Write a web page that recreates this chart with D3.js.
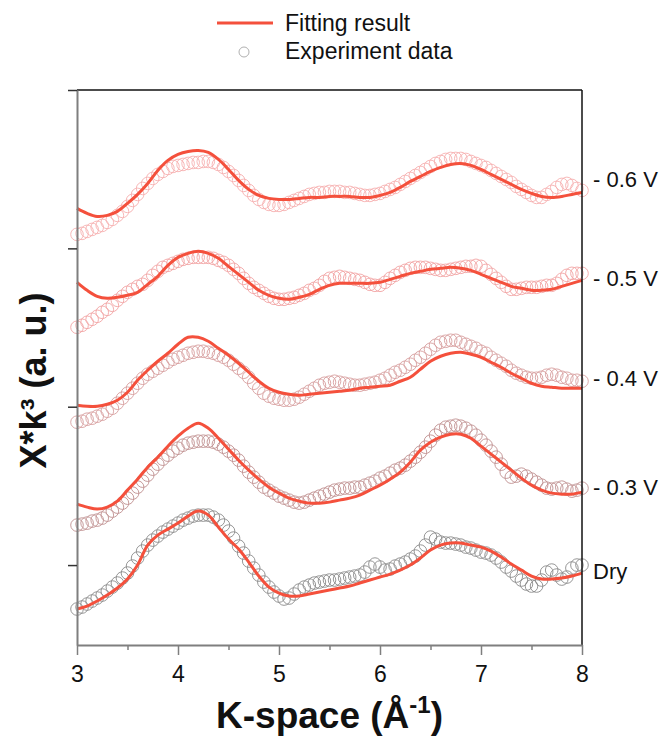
<!DOCTYPE html>
<html>
<head>
<meta charset="utf-8">
<script src="https://cdn.jsdelivr.net/npm/d3@7"></script>
<style>
  html, body { margin: 0; padding: 0; background: #fff; }
  svg { display: block; font-family: "Liberation Sans", Arial, sans-serif; }
</style>
</head>
<body>
<svg id="chart" width="668" height="740"></svg>
<script>
// Series names, vertical offsets (a.u.) and label levels
const seriesNames = ["Dry", "- 0.3 V", "- 0.4 V", "- 0.5 V", "- 0.6 V"];
const seriesOffsets = [0, 8, 18, 28, 37.5];
const labelLevels = [-1.4, 7.0, 17.9, 27.9, 37.8];

// k grids (Å^-1): fits every 0.1, experimental points every 0.05
const kFit = d3.range(51).map(i => +(3 + i * 0.1).toFixed(2));
const kExp = d3.range(101).map(i => +(3 + i * 0.05).toFixed(2));

// Fitted χ·k³ (a.u., before offset)
const fitDry = [-4.4,-4.1,-3.6,-3.0,-2.3,-1.4,0.0,2.0,3.0,3.6, 4.2,4.9,5.4,5.0,3.8,2.6,1.6,0.3,-1.1,-2.2,
  -2.8,-3.1,-3.1,-2.9,-2.7,-2.5,-2.3,-2.1,-1.8,-1.5, -1.2,-0.9,-0.5,0.0,0.7,1.5,2.0,2.2,2.2,2.0,
  1.8,1.4,0.8,0.1,-0.5,-1.1,-1.4,-1.4,-1.3,-1.1, -0.8];
const fit03 = [-1.9,-2.2,-2.4,-2.2,-1.6,-0.5,0.6,1.8,2.8,3.9, 4.9,5.7,6.2,5.7,4.7,3.6,2.5,1.5,0.6,-0.2,
  -0.8,-1.3,-1.6,-1.8,-1.8,-1.7,-1.5,-1.3,-1.0,-0.5, 0.0,0.6,1.3,2.3,3.5,4.3,4.8,5.1,5.1,4.7,
  3.9,3.1,2.3,1.5,0.7,0.0,-0.5,-0.8,-0.9,-0.9, -0.7];
const fit04 = [-2.0,-2.1,-2.1,-1.9,-1.5,-0.7,0.5,1.5,2.4,3.2, 4.1,4.8,4.8,4.4,3.7,3.0,2.2,1.3,0.4,-0.3,
  -0.7,-0.9,-1.0,-0.9,-0.8,-0.7,-0.6,-0.5,-0.3,-0.2, -0.1,0.0,0.4,0.8,1.6,2.4,2.9,3.2,3.3,3.1,
  2.8,2.3,1.8,1.2,0.7,0.2,-0.1,-0.2,-0.3,-0.3, -0.3];
const fit05 = [0.3,-0.5,-1.1,-1.3,-1.2,-1.0,-0.7,0.1,0.9,2.0, 2.8,3.2,3.4,3.2,2.7,1.9,1.1,0.3,-0.5,-1.0,
  -1.3,-1.4,-1.2,-0.9,-0.4,0.0,0.2,0.2,0.2,0.2, 0.3,0.6,0.9,1.2,1.4,1.6,1.7,1.8,1.7,1.5,
  1.1,0.7,0.3,-0.1,-0.3,-0.5,-0.5,-0.4,-0.1,0.2, 0.5];
const fit06 = [-1.8,-2.3,-2.6,-2.5,-2.1,-1.3,-0.4,0.7,2.0,3.0, 3.6,3.9,4.0,3.8,3.1,2.1,1.0,0.1,-0.5,-0.8,
  -0.9,-0.9,-0.8,-0.7,-0.7,-0.6,-0.6,-0.6,-0.7,-0.7, -0.5,-0.2,0.3,0.9,1.4,1.9,2.3,2.6,2.7,2.5,
  2.1,1.6,1.1,0.6,0.1,-0.3,-0.6,-0.7,-0.6,-0.4, -0.2];

// Experimental χ·k³ (a.u., before offset)
const expDry = [-4.4,-4.2,-3.9,-3.6,-3.3,-3.0,-2.6,-2.2,-1.8,-1.3,
  -0.8,-0.1,0.7,1.4,2.0,2.5,2.9,3.3,3.6,3.9,
  4.2,4.5,4.7,4.9,5.0,5.0,5.0,4.8,4.5,4.0,
  3.4,2.7,1.9,1.2,0.4,-0.3,-1.0,-1.7,-2.2,-2.7,
  -3.1,-3.4,-3.3,-2.9,-2.5,-2.2,-2.0,-1.8,-1.7,-1.6,
  -1.5,-1.5,-1.4,-1.3,-1.2,-1.1,-1.0,-0.7,-0.2,0.1,
  -0.2,-0.5,-0.4,-0.1,0.1,0.3,0.6,0.9,1.4,2.0,
  2.8,2.6,2.3,2.2,2.2,2.1,2.0,1.8,1.7,1.5,
  1.3,1.2,1.0,0.7,0.3,-0.2,-0.6,-1.1,-1.5,-1.9,
  -2.1,-2.1,-1.5,-0.7,-0.5,-1.0,-1.4,-1.2,-0.3,0.0,
  0.0];
const exp03 = [-4.0,-3.9,-3.8,-3.6,-3.5,-3.3,-3.0,-2.6,-2.2,-1.8,
  -1.3,-0.8,-0.2,0.4,1.0,1.6,2.1,2.6,3.0,3.4,
  3.7,4.0,4.2,4.3,4.4,4.4,4.4,4.3,4.1,3.8,
  3.4,3.0,2.5,1.9,1.3,0.8,0.3,-0.2,-0.5,-0.8,
  -1.1,-1.3,-1.5,-1.7,-1.8,-1.7,-1.5,-1.3,-1.1,-0.9,
  -0.7,-0.5,-0.4,-0.3,-0.3,-0.2,-0.2,0.0,0.2,0.4,
  0.7,0.9,1.2,1.5,1.7,2.0,2.4,2.8,3.3,3.8,
  4.4,5.0,5.5,5.8,5.9,6.0,5.9,5.7,5.4,5.0,
  4.5,4.0,3.4,2.8,2.1,1.3,0.8,0.9,1.1,0.9,
  0.6,0.3,0.0,-0.3,-0.4,-0.3,-0.2,-0.4,-0.6,-0.5,
  -0.3];
const exp04 = [-3.7,-3.6,-3.4,-3.3,-3.1,-2.9,-2.6,-2.3,-1.8,-1.3,
  -0.8,-0.3,0.2,0.7,1.1,1.4,1.7,2.0,2.3,2.6,
  2.8,3.0,3.2,3.3,3.4,3.4,3.3,3.2,3.0,2.8,
  2.5,2.1,1.7,1.3,0.8,0.2,-0.3,-0.8,-1.1,-1.3,
  -1.4,-1.5,-1.5,-1.4,-1.2,-0.9,-0.6,-0.3,0.0,0.2,
  0.3,0.4,0.3,0.2,0.1,0.0,0.0,0.1,0.2,0.3,
  0.5,0.7,1.0,1.3,1.5,1.8,2.1,2.5,2.8,3.2,
  3.6,4.0,4.3,4.4,4.5,4.5,4.3,4.1,3.9,3.7,
  3.4,3.2,2.8,2.5,2.2,1.9,1.5,1.2,1.0,0.8,
  0.7,0.7,0.8,1.0,1.1,1.0,0.8,0.7,0.5,0.5,
  0.4];
const exp05 = [-4.2,-4.0,-3.7,-3.4,-3.1,-2.7,-2.4,-2.0,-1.5,-1.1,
  -0.7,-0.4,-0.1,0.1,0.5,1.0,1.4,1.8,2.0,2.2,
  2.4,2.6,2.7,2.8,2.8,2.8,2.8,2.7,2.5,2.3,
  2.0,1.6,1.2,0.7,0.2,-0.2,-0.5,-0.8,-1.1,-1.3,
  -1.4,-1.4,-1.3,-1.2,-1.0,-0.8,-0.5,-0.3,0.0,0.4,
  0.7,0.8,0.9,0.8,0.7,0.6,0.5,0.3,0.1,0.0,
  0.0,0.3,0.7,1.0,1.3,1.5,1.7,1.8,1.8,1.8,
  1.7,1.6,1.5,1.5,1.6,1.7,1.8,1.9,1.9,2.0,
  1.9,1.5,1.1,0.7,0.3,-0.1,-0.4,-0.4,-0.3,-0.2,
  -0.2,-0.2,-0.1,0.0,0.0,0.2,0.6,1.0,1.2,1.2,
  1.2];
const exp06 = [-4.4,-4.3,-4.1,-3.9,-3.7,-3.5,-3.2,-2.9,-2.5,-2.1,
  -1.6,-1.0,-0.4,0.2,0.7,1.2,1.6,1.9,2.2,2.4,
  2.5,2.6,2.7,2.8,2.8,2.9,2.9,2.8,2.6,2.3,
  1.9,1.5,1.0,0.5,0.0,-0.5,-0.9,-1.2,-1.4,-1.5,
  -1.5,-1.4,-1.2,-1.0,-0.8,-0.6,-0.4,-0.3,-0.2,-0.2,
  -0.1,-0.1,-0.1,-0.2,-0.2,-0.3,-0.4,-0.5,-0.5,-0.4,
  -0.3,-0.1,0.1,0.3,0.6,0.9,1.2,1.5,1.8,2.1,
  2.4,2.7,2.9,3.1,3.2,3.2,3.2,3.1,2.9,2.7,
  2.5,2.3,2.0,1.7,1.4,1.1,0.8,0.4,0.1,-0.2,
  -0.5,-0.7,-0.7,-0.4,-0.1,0.3,0.6,0.7,0.5,0.2,
  0.0];

const fitSeries = [fitDry, fit03, fit04, fit05, fit06];
const expSeries = [expDry, exp03, exp04, exp05, exp06];
const pointColors = ["#8a8a8a", "#bf9090", "#d79e9e", "#f2a4a4", "#f6b0b0"];

const xTicks = [3, 4, 5, 6, 7, 8];
const xMinorTicks = [3.5, 4.5, 5.5, 6.5, 7.5];
const yTicks = [0, 15.85, 31.7, 47.55];

const fitColor = "#f4503c";
const axisGray = "#7f7f7f";

const svg = d3.select("#chart");
const margin = { left: 77, right: 86, top: 90, bottom: 95 };
const W = 668, H = 740;

const x = d3.scaleLinear().domain([3, 8]).range([margin.left, W - margin.right]);
const y = d3.scaleLinear().domain([-8, 47.55]).range([H - margin.bottom, margin.top]);

// Data: experimental circles then the fitted line, per series
const line = d3.line()
  .x(d => x(d[0]))
  .y(d => y(d[1]))
  .curve(d3.curveCatmullRom.alpha(0.5));

const plot = svg.append("g");
seriesNames.forEach((name, s) => {
  const off = seriesOffsets[s];
  plot.append("g")
    .selectAll("circle")
    .data(kExp.map((k, i) => [k, expSeries[s][i] + off]))
    .join("circle")
    .attr("cx", d => x(d[0]))
    .attr("cy", d => y(d[1]))
    .attr("r", 6.3)
    .attr("fill", "none")
    .attr("stroke", pointColors[s])
    .attr("stroke-width", 0.9);
});
seriesNames.forEach((name, s) => {
  const off = seriesOffsets[s];
  plot.append("path")
    .datum(kFit.map((k, i) => [k, fitSeries[s][i] + off]))
    .attr("d", line)
    .attr("fill", "none")
    .attr("stroke", fitColor)
    .attr("stroke-width", 3);
});

// Frame: top and right in black
svg.append("line")
  .attr("x1", x(3)).attr("x2", x(8)).attr("y1", y.range()[1]).attr("y2", y.range()[1])
  .attr("stroke", "#111").attr("stroke-width", 1.5);
svg.append("line")
  .attr("x1", x(8)).attr("x2", x(8)).attr("y1", y.range()[1]).attr("y2", y.range()[0])
  .attr("stroke", "#111").attr("stroke-width", 1.5);

// Bottom axis
const gx = svg.append("g").attr("transform", `translate(0,${y.range()[0]})`);
gx.call(d3.axisBottom(x).tickValues(xTicks).tickSize(10).tickSizeOuter(0).tickPadding(11)
  .tickFormat(d3.format("d")));
const gxMinor = svg.append("g").attr("transform", `translate(0,${y.range()[0]})`);
gxMinor.call(d3.axisBottom(x).tickValues(xMinorTicks).tickSize(5).tickSizeOuter(0).tickFormat(""));
gxMinor.select(".domain").remove();
[gx, gxMinor].forEach(g => {
  g.select(".domain").attr("stroke", axisGray).attr("stroke-width", 2);
  g.selectAll(".tick line").attr("stroke", axisGray).attr("stroke-width", 1.5);
});
gx.selectAll(".tick text")
  .attr("fill", "#111")
  .style("font-size", "23px")
  .style("font-family", '"Liberation Sans", Arial, sans-serif');

// Left axis
const gy = svg.append("g").attr("transform", `translate(${x(3)},0)`);
gy.call(d3.axisLeft(y).tickValues(yTicks).tickSize(9).tickSizeOuter(0).tickFormat(""));
gy.select(".domain").attr("stroke", axisGray).attr("stroke-width", 2);
gy.selectAll(".tick line").attr("stroke", "#333").attr("stroke-width", 1.5);

// Series labels on the right
svg.append("g")
  .selectAll("text")
  .data(seriesNames)
  .join("text")
  .attr("x", x(8) + 11)
  .attr("y", (d, i) => y(labelLevels[i]))
  .attr("fill", "#111")
  .style("font-size", "22px")
  .text(d => d);

// Axis titles
svg.append("text")
  .attr("x", (x(3) + x(8)) / 2)
  .attr("y", 728)
  .attr("text-anchor", "middle")
  .attr("fill", "#111")
  .style("font-size", "37px")
  .style("font-weight", "bold")
  .call(t => {
    t.append("tspan").text("K-space (Å");
    t.append("tspan").attr("dy", -15).style("font-size", "24px").text("-1");
    t.append("tspan").attr("dy", 15).text(")");
  });

svg.append("text")
  .attr("transform", `translate(46,${(y.range()[0] + y.range()[1]) / 2 + 13}) rotate(-90)`)
  .attr("text-anchor", "middle")
  .attr("fill", "#111")
  .style("font-size", "36px")
  .style("font-weight", "bold")
  .text("X*k³ (a. u.)");

// Legend
const legend = svg.append("g");
legend.append("line")
  .attr("x1", 217).attr("x2", 273).attr("y1", 23).attr("y2", 23)
  .attr("stroke", fitColor).attr("stroke-width", 3);
legend.append("text")
  .attr("x", 285).attr("y", 31)
  .attr("fill", "#111").style("font-size", "23px")
  .text("Fitting result");
legend.append("circle")
  .attr("cx", 244).attr("cy", 52).attr("r", 5)
  .attr("fill", "none").attr("stroke", "#b0b0b0").attr("stroke-width", 1);
legend.append("text")
  .attr("x", 285).attr("y", 59)
  .attr("fill", "#111").style("font-size", "23px")
  .text("Experiment data");
</script>
</body>
</html>
